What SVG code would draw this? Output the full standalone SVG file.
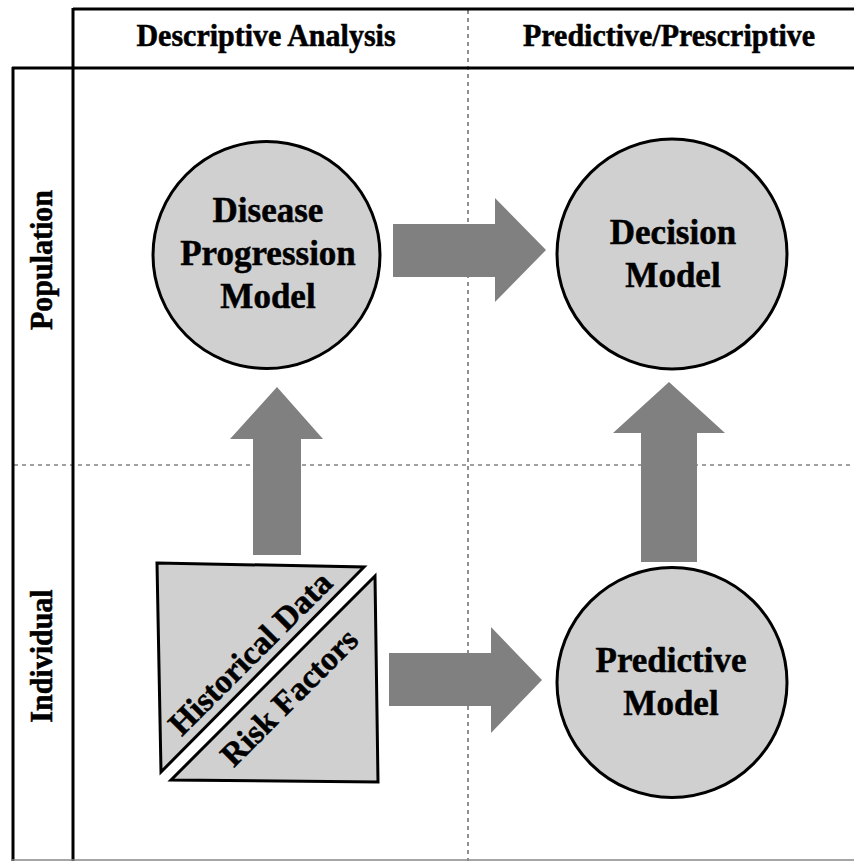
<svg xmlns="http://www.w3.org/2000/svg" width="854" height="861" viewBox="0 0 854 861">
  <style>
    .frame { stroke: #000; stroke-width: 3; fill: none; }
    .grid { stroke: #444; stroke-width: 1.2; stroke-dasharray: 4 4; fill: none; }
    .node { fill: #d0d0d0; stroke: #000; stroke-width: 3; }
    .arrow { fill: #808080; }
    .lbl { font-family: "Liberation Serif", "Times New Roman", serif; font-weight: bold; fill: #000; stroke: #000; stroke-width: 0.5; text-anchor: middle; }
    .head { font-size: 30px; }
    .big { font-size: 35px; }
    .diag { font-size: 33px; }
  </style>
  <rect width="854" height="861" fill="#fff"/>

  <!-- table frame -->
  <g id="frame">
    <line class="grid" x1="468" y1="10" x2="468" y2="861"/>
    <line class="grid" x1="14" y1="465" x2="854" y2="465"/>
    <line class="frame" x1="73" y1="9" x2="854" y2="9"/>
    <line class="frame" x1="12" y1="68" x2="854" y2="68"/>
    <line class="frame" x1="73" y1="8" x2="73" y2="861"/>
    <line class="frame" x1="13" y1="67" x2="13" y2="861"/>
    <line x1="12" y1="860" x2="854" y2="860" stroke="#888" stroke-width="1.5"/>
  </g>

  <!-- axis labels -->
  <g id="headers">
    <text class="lbl head" transform="translate(266,46) scale(1,1.08)">Descriptive Analysis</text>
    <text class="lbl head" transform="translate(669,46) scale(1,1.08)">Predictive/Prescriptive</text>
    <text class="lbl head" transform="translate(52,260) rotate(-90) scale(1,1.08)">Population</text>
    <text class="lbl head" transform="translate(52,656) rotate(-90) scale(1,1.08)">Individual</text>
  </g>

  <!-- block arrows -->
  <g id="connectors">
    <polygon class="arrow" points="393,224 495,224 495,198 546,250 495,302 495,277 393,277"/>
    <polygon class="arrow" points="389,653 491,653 491,627 542,680 491,733 491,706 389,706"/>
    <polygon class="arrow" points="253,555 253,439 230,439 277,387 323,439 301,439 301,555"/>
    <polygon class="arrow" points="641,562 641,433 613,433 669,382 725,433 697,433 697,562"/>
  </g>

  <g id="disease-progression-model">
    <circle class="node" cx="266.5" cy="255" r="113.5"/>
    <text class="lbl big" x="268" y="222">Disease</text>
    <text class="lbl big" x="268" y="265">Progression</text>
    <text class="lbl big" x="268" y="308">Model</text>
  </g>

  <g id="decision-model">
    <circle class="node" cx="672" cy="254" r="115"/>
    <text class="lbl big" x="673" y="244">Decision</text>
    <text class="lbl big" x="673" y="287">Model</text>
  </g>

  <g id="predictive-model">
    <circle class="node" cx="672" cy="682.5" r="115"/>
    <text class="lbl big" x="671" y="672">Predictive</text>
    <text class="lbl big" x="671" y="715">Model</text>
  </g>

  <g id="data-inputs">
    <polygon class="node" points="157,563 364,567 161,772"/>
    <polygon class="node" points="375,576 378,782 171,780"/>
    <text class="lbl diag" transform="translate(258,661) rotate(-45)">Historical Data</text>
    <text class="lbl diag" transform="translate(297,705) rotate(-45)">Risk Factors</text>
  </g>
</svg>
